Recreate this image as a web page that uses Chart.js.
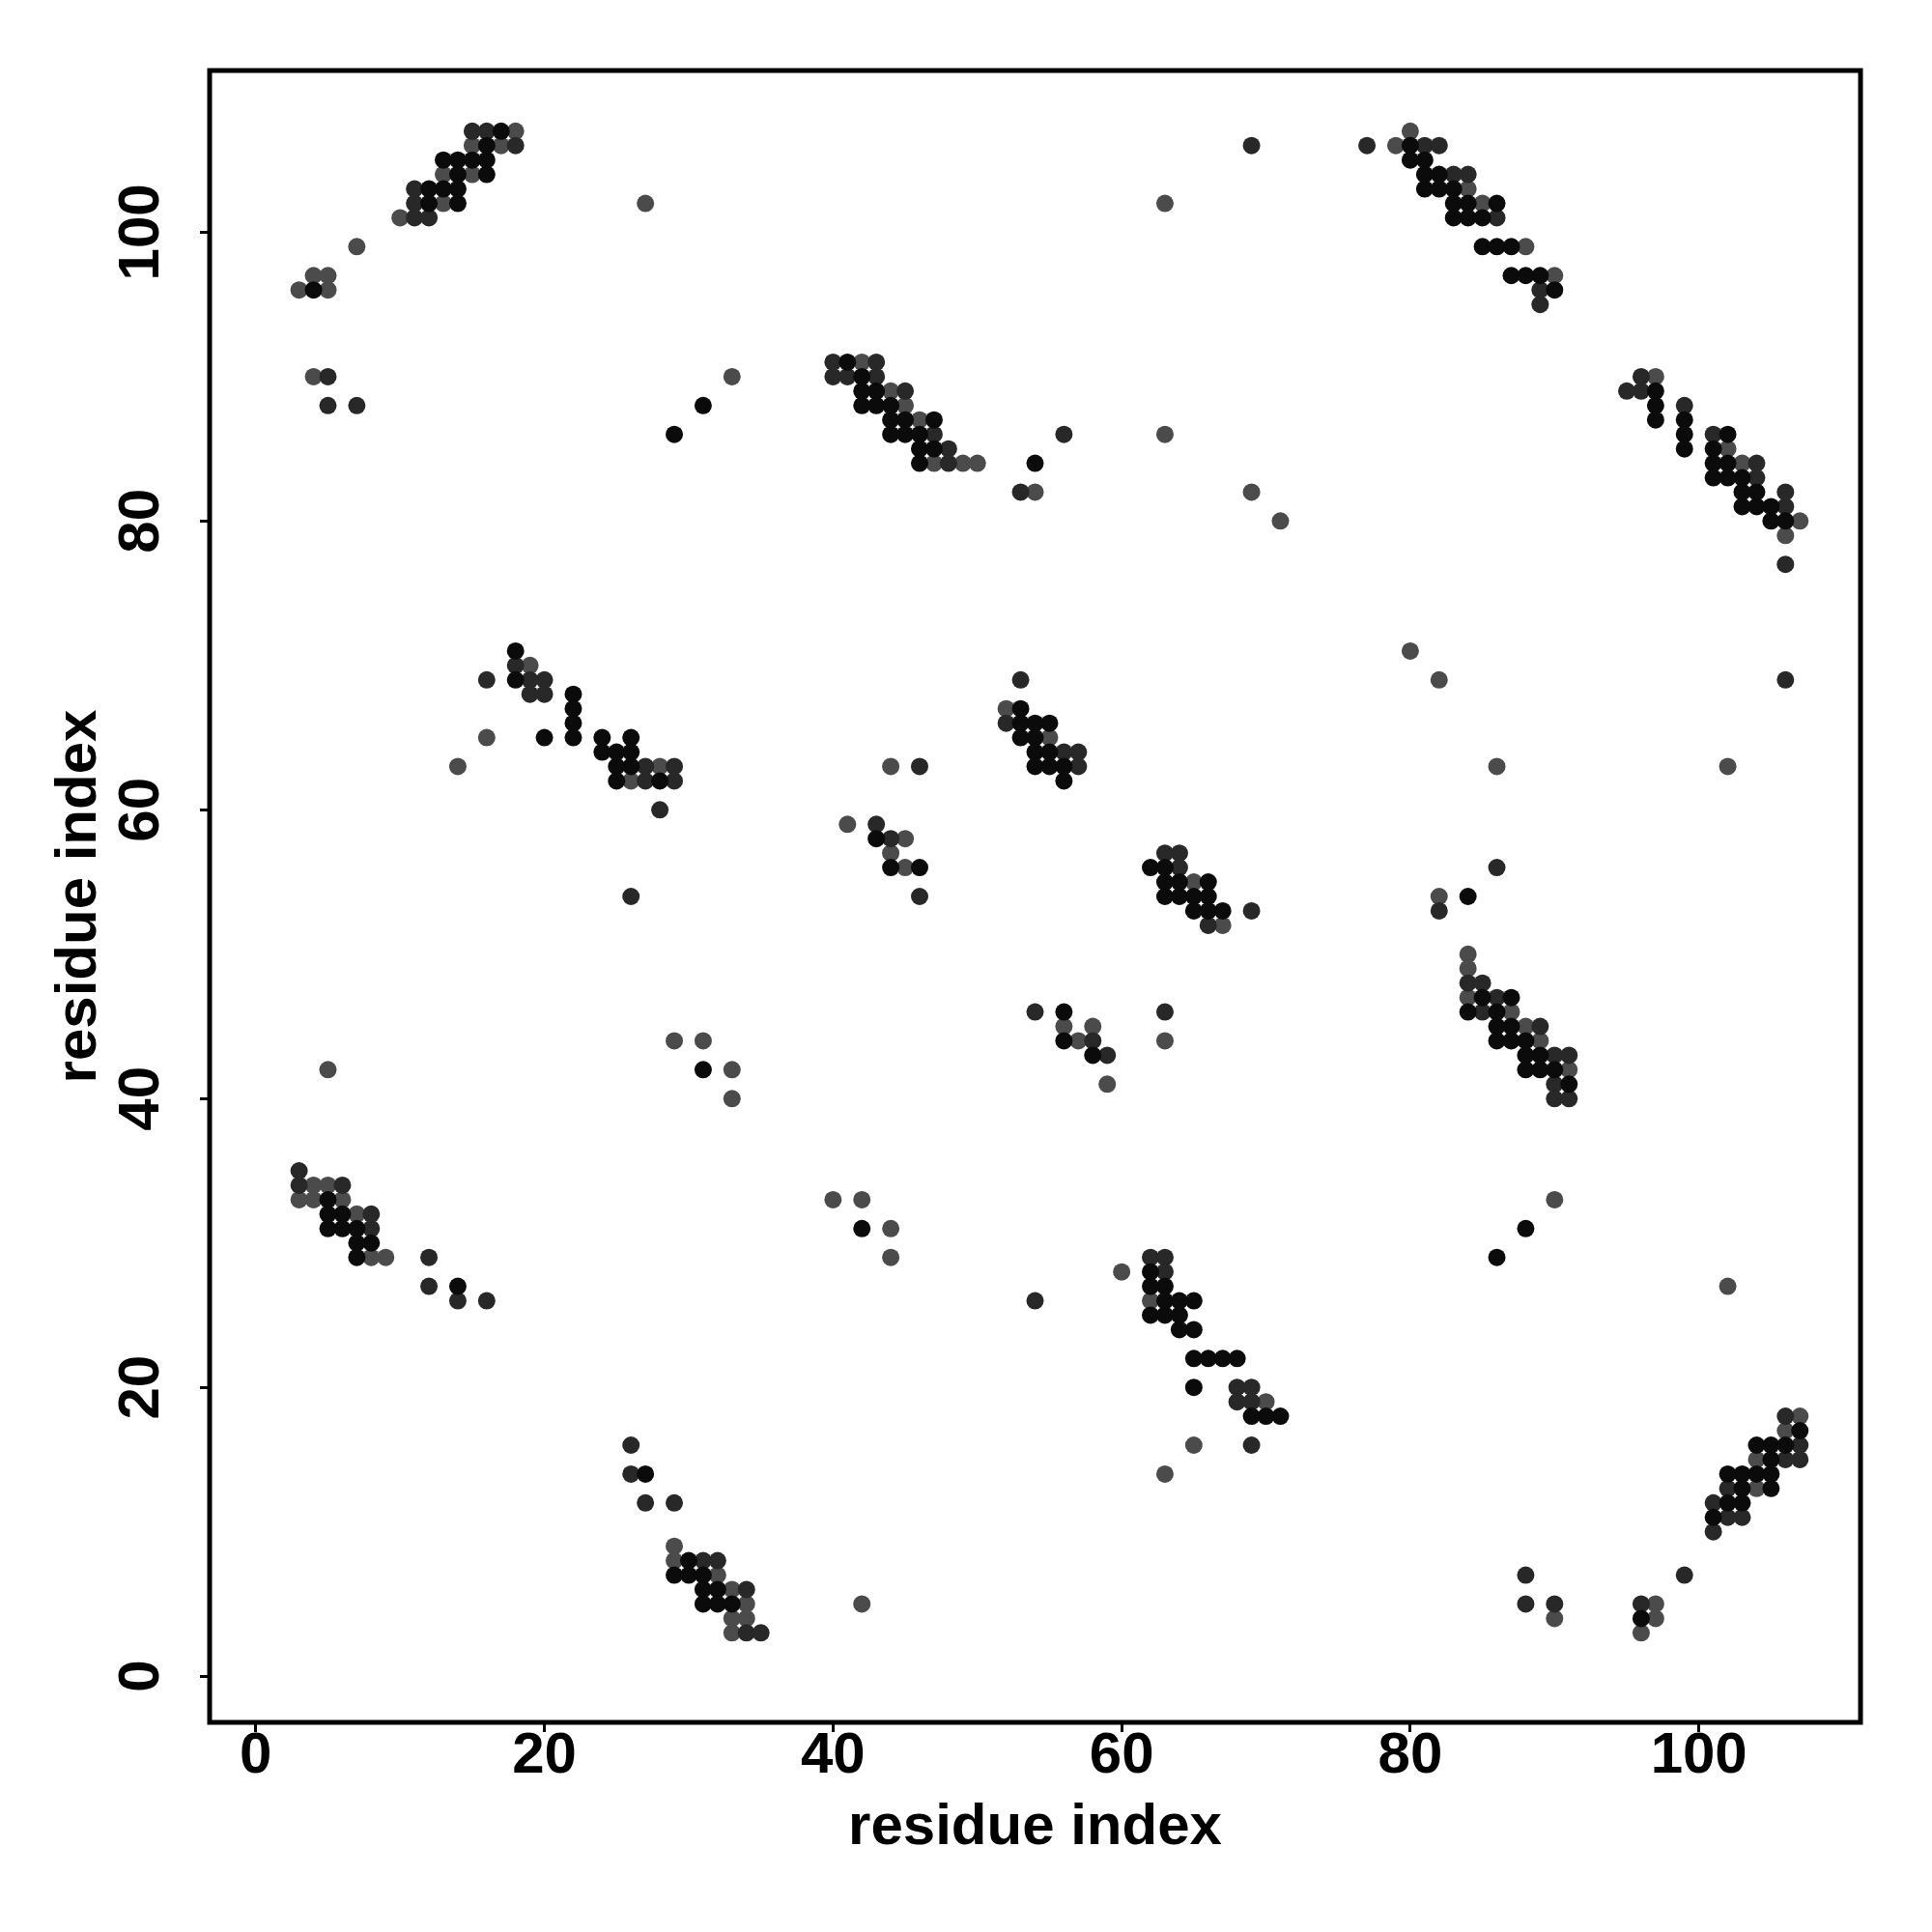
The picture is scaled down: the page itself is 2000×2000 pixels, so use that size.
<!DOCTYPE html>
<html>
<head>
<meta charset="utf-8">
<title>Contact map</title>
<script src="https://cdn.jsdelivr.net/npm/chart.js@4.4.0/dist/chart.umd.min.js"></script>
<style>
    html, body { margin: 0; padding: 0; background: #fff; }
    canvas { display: block; }
</style>
</head>
<body>
<canvas id="contactChart" width="2000" height="2000"></canvas>
<script>
// Contacts as [residue i, residue j], grouped by shade
const blackContacts = [
    [17,107],[16,106],[13,105],[14,105],[15,105],[16,105],[14,104],[16,104],[12,103],[13,103],[14,103],[12,102],[14,102],[4,96],[31,88],[29,86],
    [41,91],[42,90],[42,89],[43,89],[42,88],[43,88],[44,88],[44,87],[45,87],[47,87],[44,86],[45,86],[46,86],[46,85],[47,85],[46,84],[54,84],
    [80,106],[80,105],[81,105],[81,104],[82,104],[81,103],[82,103],[83,103],[83,102],[84,102],[86,102],[83,101],[84,101],[85,101],[85,99],[86,99],[87,99],
    [87,97],[88,97],[89,97],[90,96],[97,89],[97,88],[97,87],[99,87],[99,86],[102,86],[99,85],[101,85],[101,84],[102,84],[101,83],[102,83],[103,83],
    [103,82],[104,82],[103,81],[104,81],[105,81],[105,80],[106,80],
    [18,71],[18,69],[22,68],[22,67],[22,66],[20,65],[22,65],[24,65],[26,65],[24,64],[25,64],[26,64],[25,63],[26,63],[25,62],[28,62],[31,42],
    [53,67],[53,66],[54,66],[55,66],[53,65],[54,65],[54,64],[55,64],[54,63],[55,63],[56,63],[56,62],[43,58],[44,56],[46,56],[62,56],[63,56],
    [63,55],[64,55],[66,55],[63,54],[64,54],[65,54],[66,54],[65,53],[66,53],[67,53],[56,46],[56,44],[58,43],
    [84,54],[85,47],[87,47],[84,46],[86,46],[86,45],[87,45],[86,44],[87,44],[88,44],[88,43],[89,43],[88,42],[89,42],[90,42],[91,41],
    [5,33],[5,32],[6,32],[5,31],[6,31],[7,31],[7,30],[8,30],[7,29],[14,27],[27,14],[30,8],[29,7],[30,7],[31,7],[31,6],[32,6],[31,5],[32,5],[33,5],
    [42,31],[62,28],[62,27],[63,27],[63,26],[64,26],[65,26],[62,25],[63,25],[64,25],[64,24],[65,24],[65,22],[66,22],[67,22],[68,22],[65,20],
    [69,18],[70,18],[71,18],
    [88,31],[86,29],[107,17],[104,16],[105,16],[106,16],[105,15],[102,14],[103,14],[104,14],[105,14],[103,13],[105,13],[102,12],[103,12],[101,11],[96,4]
];

const darkContacts = [
    [15,107],[16,107],[18,106],[11,103],[11,102],[11,101],[12,101],[5,90],[5,88],[7,88],
    [69,106],[40,91],[43,91],[40,90],[41,90],[43,90],[45,89],[47,86],[56,86],[48,85],[48,84],[53,82],
    [77,106],[81,106],[82,106],[83,104],[84,104],[86,101],[89,96],[89,95],[96,90],[95,89],[96,89],[99,88],[101,86],[104,84],[104,83],
    [106,82],[106,81],[106,77],
    [18,70],[16,69],[19,69],[20,69],[19,68],[20,68],[27,63],[29,63],[27,62],[29,62],[28,60],[26,54],
    [53,69],[52,66],[56,64],[57,64],[46,63],[57,63],[43,59],[44,58],[63,57],[64,57],[64,56],[46,54],[69,53],[66,52],[54,46],[63,46],[58,44],[59,43],
    [106,69],[86,56],[82,53],[84,48],[85,48],[86,47],[85,46],[89,45],[90,43],[91,43],[90,41],[90,40],[91,40],
    [3,35],[3,34],[6,34],[8,32],[8,31],[12,29],[12,27],[14,26],[16,26],[26,16],[26,14],[27,12],[29,12],[31,8],[32,8],[34,6],[34,3],[35,3],
    [62,29],[63,29],[63,28],[54,26],[68,20],[69,20],[68,19],[69,19],[69,16],
    [106,18],[107,16],[106,15],[107,15],[102,13],[101,12],[102,11],[103,11],[101,10],[88,7],[99,7],[88,5],[90,5],[96,5]
];

const grayContacts = [
    [18,107],[15,106],[17,106],[13,104],[15,104],[13,102],[27,102],[10,101],[7,99],[4,97],[5,97],[3,96],[5,96],[4,90],[33,90],
    [63,102],[42,91],[44,89],[45,88],[46,87],[63,86],[47,84],[49,84],[50,84],[54,82],[69,82],[71,80],
    [80,107],[79,106],[84,103],[85,102],[88,99],[90,97],[97,90],[102,85],[103,84],[107,80],[106,79],
    [19,70],[16,65],[14,63],[28,63],[26,62],[29,44],[31,44],[5,42],[33,42],[33,40],
    [52,67],[55,65],[44,63],[41,59],[45,58],[44,57],[45,56],[65,55],[67,52],[56,45],[58,45],[57,44],[63,44],[59,41],
    [80,71],[82,69],[86,63],[102,63],[82,54],[84,50],[84,49],[84,47],[87,46],[88,45],[89,44],[91,42],
    [4,34],[5,34],[3,33],[4,33],[6,33],[7,32],[8,29],[9,29],[29,9],[29,8],[32,7],[33,6],[34,5],[33,4],[34,4],[33,3],
    [40,33],[42,33],[44,31],[44,29],[60,28],[62,26],[70,19],[65,16],[63,14],[42,5],
    [90,33],[102,27],[107,18],[106,17],[104,15],[104,13],[97,5],[90,4],[97,4],[96,3]
];

const tickValues = [0, 20, 40, 60, 80, 100];
const axisMin = -3.2;
const axisMax = 111.2;

document.addEventListener('DOMContentLoaded', function() {
    const toPoints = pairs => pairs.map(p => ({ x: p[0], y: p[1] }));

    // frame around the plotting region, drawn like R's box()
    const boxPlugin = {
        id: 'plotBox',
        afterDraw(chart) {
            const { ctx, chartArea } = chart;
            ctx.save();
            ctx.strokeStyle = '#000';
            ctx.lineWidth = 5;
            ctx.strokeRect(chartArea.left, chartArea.top, chartArea.right - chartArea.left, chartArea.bottom - chartArea.top);
            ctx.restore();
        }
    };

    const tickFont = { family: 'Liberation Sans', size: 60, weight: 'bold', lineHeight: 1 };

    const ctx = document.getElementById('contactChart').getContext('2d');
    const contactChart = new Chart(ctx, {
        type: 'scatter',
        data: {
            datasets: [
                { label: 'strong', data: toPoints(blackContacts), backgroundColor: '#0b0b0b' },
                { label: 'medium', data: toPoints(darkContacts), backgroundColor: '#282828' },
                { label: 'weak', data: toPoints(grayContacts), backgroundColor: '#4b4b4b' }
            ]
        },
        options: {
            responsive: false,
            animation: false,
            layout: {
                padding: { top: 73, right: 74, bottom: 0, left: 0 }
            },
            elements: {
                point: { radius: 9, borderWidth: 0, hoverRadius: 9 }
            },
            plugins: {
                legend: { display: false },
                tooltip: { enabled: false }
            },
            scales: {
                x: {
                    type: 'linear',
                    min: axisMin,
                    max: axisMax,
                    afterBuildTicks: scale => { scale.ticks = tickValues.map(v => ({ value: v })); },
                    afterFit: scale => { scale.height = 217; },
                    border: { display: false },
                    grid: { drawOnChartArea: false, drawTicks: true, tickLength: 10, tickWidth: 3, tickColor: '#000' },
                    ticks: { font: tickFont, color: '#000', padding: -5, maxRotation: 0 },
                    title: {
                        display: true,
                        text: 'residue index',
                        color: '#000',
                        font: { family: 'Liberation Sans', size: 60, weight: 'bold', lineHeight: 1 },
                        padding: { top: 0, bottom: 78 }
                    }
                },
                y: {
                    type: 'linear',
                    min: axisMin,
                    max: axisMax,
                    afterBuildTicks: scale => { scale.ticks = tickValues.map(v => ({ value: v })); },
                    afterFit: scale => { scale.width = 217; },
                    border: { display: false },
                    grid: { drawOnChartArea: false, drawTicks: true, tickLength: 10, tickWidth: 3, tickColor: '#000' },
                    ticks: { font: tickFont, color: '#000', padding: 9, minRotation: 90, maxRotation: 90, crossAlign: 'center' },
                    title: {
                        display: true,
                        text: 'residue index',
                        color: '#000',
                        font: { family: 'Liberation Sans', size: 60, weight: 'bold', lineHeight: 1 },
                        padding: { top: 52, bottom: 0 }
                    }
                }
            }
        },
        plugins: [boxPlugin]
    });
});
</script>
</body>
</html>
